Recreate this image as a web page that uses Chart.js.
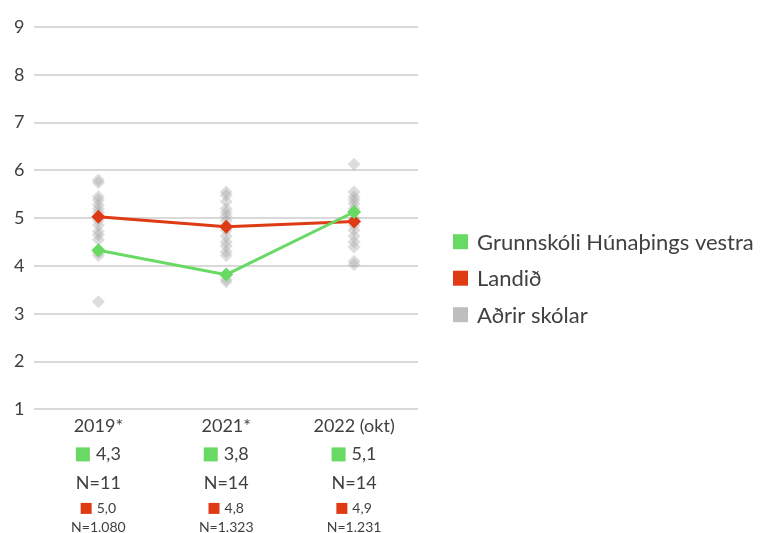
<!DOCTYPE html>
<html>
<head>
<meta charset="utf-8">
<script src="https://cdn.jsdelivr.net/npm/chart.js@4.4.1/dist/chart.umd.min.js"></script>
<style>
  html, body { margin: 0; padding: 0; background: #fff; }
  #wrap { width: 762px; height: 533px; }
</style>
</head>
<body>
<div id="wrap"><canvas id="c" width="762" height="533"></canvas></div>
<script>
// Survey years
const years = ['2019*', '2021*', '2022 (okt)'];

// School average and national average per year
const schoolValues = [4.33, 3.82, 5.13];
const nationalValues = [5.03, 4.82, 4.93];

// Respondent counts
const schoolN = ['11', '14', '14'];
const nationalN = ['1.080', '1.323', '1.231'];

// Averages of other schools, one list per year
const others2019 = [5.80, 5.74, 5.45, 5.38, 5.28, 5.20, 5.12, 4.95, 4.85, 4.72, 4.65, 4.55, 4.28, 4.22, 3.25];
const others2021 = [5.55, 5.48, 5.35, 5.20, 5.12, 5.04, 4.95, 4.75, 4.62, 4.50, 4.42, 4.30, 4.22, 3.72, 3.67];
const others2022 = [6.13, 5.55, 5.45, 5.38, 5.30, 5.20, 5.00, 4.85, 4.75, 4.62, 4.50, 4.40, 4.10, 4.03];

const seriesNames = ['Grunnskóli Húnaþings vestra', 'Landið', 'Aðrir skólar'];

const GREEN = 'rgb(104,218,100)';
const RED = 'rgb(222,58,20)';
const GREY = 'rgb(190,190,190)';
const TEXT = '#404040';
const FONT = 'Lato, "Open Sans", sans-serif';

const otherPoints = [];
[others2019, others2021, others2022].forEach((list, i) => {
  list.forEach(v => otherPoints.push({ x: years[i], y: v }));
});

const fmt = v => v.toFixed(1).replace('.', ',');

// Value / N rows under each year label
const underLabels = {
  id: 'underLabels',
  afterDraw(chart) {
    const ctx = chart.ctx;
    const xs = chart.scales.x;
    const base = chart.chartArea.bottom;
    ctx.save();
    ctx.textBaseline = 'middle';
    years.forEach((y, i) => {
      const cx = xs.getPixelForValue(i);
      // school value with swatch
      ctx.font = '18px ' + FONT;
      let t = fmt(schoolValues[i]);
      let tw = ctx.measureText(t).width;
      let sq = 14, gap = 6;
      let total = sq + gap + tw;
      let x0 = cx - total / 2;
      let ry = base + 45;
      ctx.fillStyle = GREEN;
      ctx.fillRect(x0, ry - sq / 2, sq, sq);
      ctx.fillStyle = TEXT;
      ctx.textAlign = 'left';
      ctx.fillText(t, x0 + sq + gap, ry);
      // school N
      ctx.textAlign = 'center';
      ctx.fillText('N=' + schoolN[i], cx, base + 74);
      // national value with swatch
      ctx.font = '14px ' + FONT;
      t = fmt(nationalValues[i]);
      tw = ctx.measureText(t).width;
      sq = 11; gap = 5;
      total = sq + gap + tw;
      x0 = cx - total / 2;
      ry = base + 99;
      ctx.fillStyle = RED;
      ctx.fillRect(x0, ry - sq / 2, sq, sq);
      ctx.fillStyle = TEXT;
      ctx.textAlign = 'left';
      ctx.fillText(t, x0 + sq + gap, ry);
      ctx.textAlign = 'center';
      ctx.fillText('N=' + nationalN[i], cx, base + 118);
    });
    ctx.restore();
  }
};

// Series key to the right of the plot
const sideLegend = {
  id: 'sideLegend',
  afterDraw(chart) {
    const ctx = chart.ctx;
    const area = chart.chartArea;
    const boxX = area.right + 35;
    const midY = (area.top + area.bottom) / 2;
    const step = 36.5;
    const box = 15;
    ctx.save();
    ctx.font = '22px ' + FONT;
    ctx.textBaseline = 'middle';
    ctx.textAlign = 'left';
    [GREEN, RED, GREY].forEach((c, i) => {
      const cy = midY + 60 + (i - 1) * step;
      ctx.fillStyle = c;
      ctx.fillRect(boxX, cy - box / 2, box, box);
      ctx.fillStyle = TEXT;
      ctx.fillText(seriesNames[i], boxX + box + 9, cy + 1);
    });
    ctx.restore();
  }
};

new Chart(document.getElementById('c'), {
  type: 'line',
  data: {
    labels: years,
    datasets: [
      {
        label: seriesNames[0],
        data: schoolValues,
        borderColor: GREEN,
        backgroundColor: GREEN,
        borderWidth: 3,
        pointStyle: 'rectRot',
        pointRadius: 7,
        pointBorderWidth: 0,
        order: 0
      },
      {
        label: seriesNames[1],
        data: nationalValues,
        borderColor: RED,
        backgroundColor: RED,
        borderWidth: 3,
        pointStyle: 'rectRot',
        pointRadius: 7,
        pointBorderWidth: 0,
        order: 1
      },
      {
        label: seriesNames[2],
        data: otherPoints,
        showLine: false,
        backgroundColor: 'rgba(165,165,165,0.38)',
        borderColor: 'rgba(165,165,165,0)',
        pointStyle: 'rectRot',
        pointRadius: 6.5,
        pointBorderWidth: 0,
        order: 2
      }
    ]
  },
  options: {
    responsive: false,
    animation: false,
    layout: { padding: { top: 27, bottom: 90, left: 4, right: 344 } },
    plugins: {
      tooltip: { enabled: false },
      legend: { display: false }
    },
    scales: {
      y: {
        min: 1,
        max: 9,
        ticks: { stepSize: 1, color: TEXT, font: { family: FONT, size: 18 }, padding: 10 },
        grid: { color: '#d9d9d9', lineWidth: 2, drawTicks: false },
        border: { display: false }
      },
      x: {
        offset: true,
        ticks: { color: TEXT, font: { family: FONT, size: 18 }, padding: 6 },
        grid: { display: false, drawTicks: false },
        border: { display: false }
      }
    }
  },
  plugins: [underLabels, sideLegend]
});
</script>
</body>
</html>
